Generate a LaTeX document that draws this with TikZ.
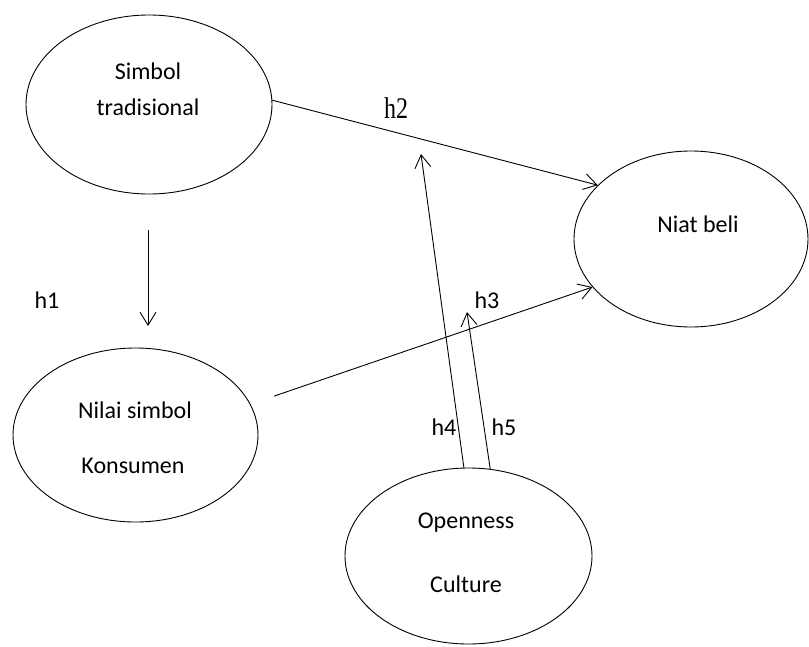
\documentclass[tikz,border=0pt]{standalone}
\usepackage{fontspec}
\setmainfont{Carlito}
\newfontfamily\timesf{Liberation Serif}
\usetikzlibrary{shapes.geometric,arrows.meta}
\begin{document}
\begin{tikzpicture}[x=1pt,y=-1pt,
  oval/.style={draw,ellipse,line width=0.9pt,inner sep=0pt},
  txt/.style={anchor=base,inner sep=0pt,font=\fontsize{24}{28}\selectfont},
  conn/.style={line width=0.9pt,-{Straight Barb[length=13pt,width=16pt,line width=0.9pt]}}]
\useasboundingbox (0,0) rectangle (809,646);
\fill[white] (0,0) rectangle (809,646);
% ellipses
\node[oval,minimum width=246pt,minimum height=179pt] (simb) at (149,104.5) {};
\node[oval,minimum width=245pt,minimum height=174pt] (nilai) at (135.5,435) {};
\node[oval,minimum width=247pt,minimum height=176pt] (open) at (468.5,556) {};
\node[oval,minimum width=234pt,minimum height=176pt] (niat) at (691,239) {};
% texts
\node[txt] (t1) at (148,79) {Simbol};
\node[txt] (t2) at (148,115) {tradisional};
\node[txt] (t3) at (135,418) {Nilai simbol};
\node[txt] (t4) at (133,473) {Konsumen};
\node[txt] (t5) at (466,528) {Openness};
\node[txt] (t6) at (466,592) {Culture};
\node[txt] (t7) at (698,232) {Niat beli};
% labels
\node[txt] (l1) at (47,308) {h1};
\node[anchor=base,inner sep=0pt,font=\timesf\fontsize{30}{34}\selectfont,xscale=0.8] (l2) at (396,118) {h2};
\node[txt] (l3) at (487,308) {h3};
\node[txt] (l4) at (444,435) {h4};
\node[txt] (l5) at (504,435) {h5};
% free ends
\coordinate (h1s) at (148,230);
\coordinate (h1e) at (148,326);
\coordinate (h4e) at (421,154);
\coordinate (h5e) at (467,312);
% connectors
\draw[conn] (simb.2.6) -- (niat.150);
\draw[conn] (h1s) -- (h1e);
\draw[conn,shorten <=25pt] (nilai.15.8) -- (niat.206.3);
\draw[conn] (open.93) -- (h4e);
\draw[conn] (open.76) -- (h5e);
\end{tikzpicture}
\end{document}
